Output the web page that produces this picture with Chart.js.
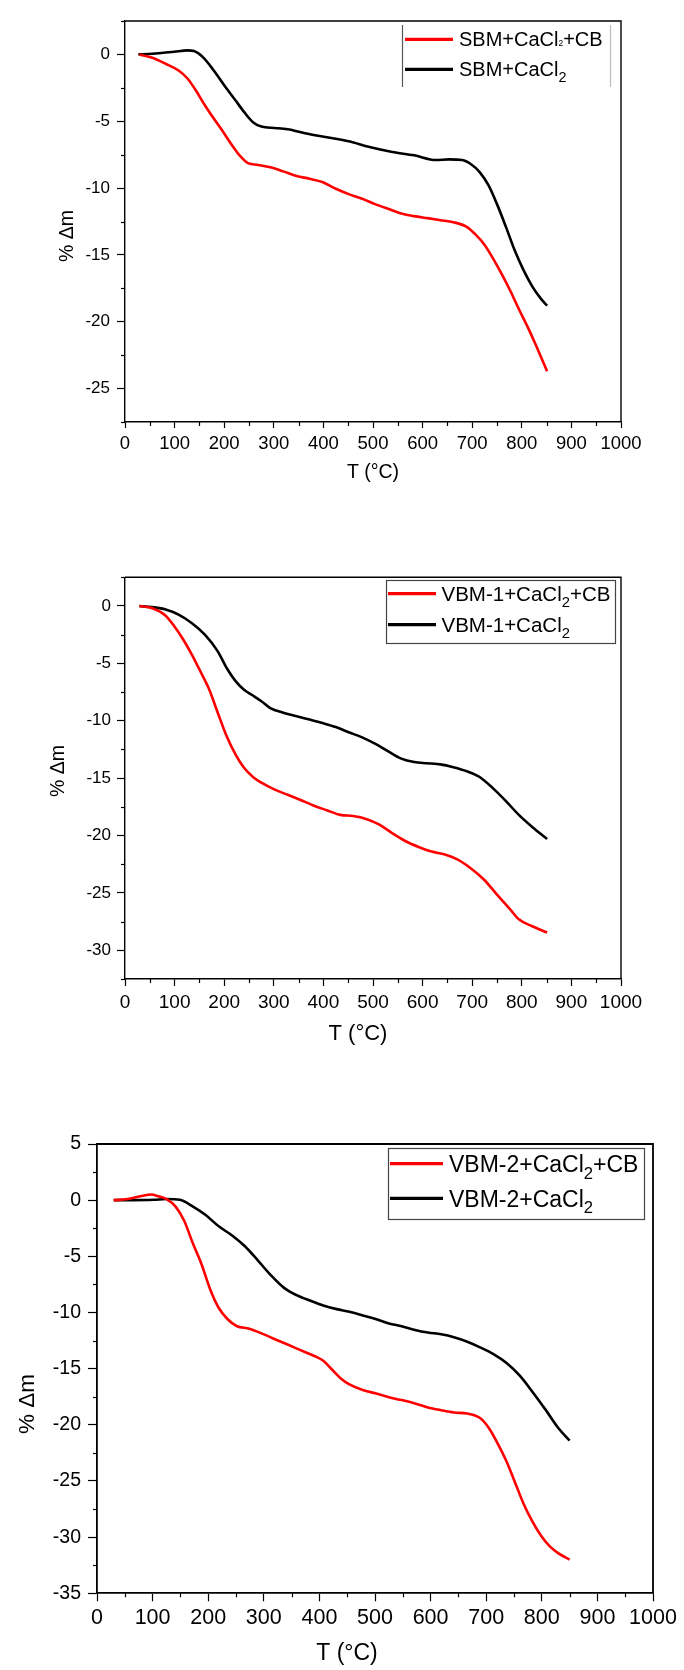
<!DOCTYPE html>
<html><head><meta charset="utf-8">
<script src="https://cdn.jsdelivr.net/npm/chart.js@4.4.0/dist/chart.umd.min.js"></script>
<style>
html,body{margin:0;padding:0;background:#fff;}
body{width:684px;height:1670px;position:relative;overflow:hidden;}
canvas{position:absolute;left:0;}
</style></head><body>
<canvas id="c1" width="684" height="520" style="top:0px"></canvas>
<canvas id="c2" width="684" height="520" style="top:540px"></canvas>
<canvas id="c3" width="684" height="570" style="top:1100px"></canvas>
<script>
// ---------- shared ticks ----------
const xTickValues = [0,100,200,300,400,500,600,700,800,900,1000];
const xMinorValues = [50,150,250,350,450,550,650,750,850,950];
const xTitleText = 'T (°C)';
const yTitleText = '% Δm';

// ---------- Chart 1: SBM ----------
const yTicks1 = [0,-5,-10,-15,-20,-25];
const yMinor1 = [2.5,-2.5,-7.5,-12.5,-17.5,-22.5,-27.5];
const name1Red = 'SBM+CaCl₂+CB';
const name1Black = 'SBM+CaCl₂';
const t1Red = [29,55,82,108,126,143,161,179,196,214,231,249,266,293,319,346,372,398,425,451,478,504,530,557,583,610,636,662,689,706,724,741,759,777,794,812,829,851];
const m1Red = [0,-0.25,-0.7,-1.2,-1.8,-2.7,-3.8,-4.8,-5.7,-6.7,-7.55,-8.15,-8.25,-8.45,-8.75,-9.1,-9.3,-9.55,-10.05,-10.45,-10.8,-11.2,-11.55,-11.9,-12.1,-12.25,-12.4,-12.55,-12.9,-13.45,-14.2,-15.2,-16.4,-17.7,-19.05,-20.4,-21.8,-23.7];
const t1Black = [27,55,99,126,139,157,179,200,223,240,258,275,302,328,363,407,451,495,539,583,627,653,680,697,715,733,750,768,785,803,821,838,851];
const m1Black = [0,0.05,0.2,0.3,0.25,-0.2,-1.2,-2.3,-3.45,-4.3,-5.07,-5.4,-5.5,-5.6,-5.9,-6.2,-6.5,-6.95,-7.3,-7.55,-7.9,-7.85,-7.9,-8.2,-8.8,-9.8,-11.2,-12.9,-14.6,-16.1,-17.35,-18.25,-18.8];

// ---------- Chart 2: VBM-1 ----------
const yTicks2 = [0,-5,-10,-15,-20,-25,-30];
const yMinor2 = [2.5,-2.5,-7.5,-12.5,-17.5,-22.5,-27.5,-32.5];
const name2Red = 'VBM-1+CaCl₂+CB';
const name2Black = 'VBM-1+CaCl₂';
const t2Red = [29,55,82,99,117,135,152,170,187,205,223,240,258,275,302,328,354,381,407,434,460,486,513,539,566,592,618,645,671,697,724,750,777,794,821,851];
const m2Red = [0,-0.2,-0.85,-1.75,-2.9,-4.25,-5.7,-7.3,-9.3,-11.35,-12.95,-14.1,-14.9,-15.4,-16.0,-16.45,-16.9,-17.4,-17.8,-18.2,-18.3,-18.55,-19.05,-19.8,-20.5,-21.0,-21.4,-21.65,-22.1,-22.85,-23.85,-25.15,-26.45,-27.3,-27.9,-28.45];
const t2Black = [29,55,82,108,135,161,187,205,223,240,258,275,293,319,346,372,398,425,451,478,504,530,557,583,610,636,662,689,715,741,768,794,821,851];
const m2Black = [0,-0.1,-0.3,-0.75,-1.5,-2.5,-3.95,-5.4,-6.55,-7.3,-7.8,-8.3,-8.9,-9.3,-9.6,-9.9,-10.2,-10.55,-11.0,-11.45,-12.0,-12.65,-13.3,-13.6,-13.7,-13.8,-14.05,-14.4,-14.9,-15.85,-17.0,-18.2,-19.25,-20.3];

// ---------- Chart 3: VBM-2 ----------
const yTicks3 = [5,0,-5,-10,-15,-20,-25,-30,-35];
const yMinor3 = [2.5,-2.5,-7.5,-12.5,-17.5,-22.5,-27.5,-32.5];
const name3Red = 'VBM-2+CaCl₂+CB';
const name3Black = 'VBM-2+CaCl₂';
const t3Red = [30,55,78,98,110,125,141,157,172,188,204,219,235,251,274,298,321,345,368,392,407,423,439,454,478,501,525,548,572,595,619,642,666,689,705,720,736,752,767,783,799,814,830,850];
const m3Red = [0,0.1,0.35,0.5,0.35,0.1,-0.55,-1.85,-3.8,-5.7,-8.0,-9.6,-10.6,-11.2,-11.45,-11.9,-12.4,-12.9,-13.4,-13.9,-14.3,-15.1,-15.9,-16.4,-16.9,-17.2,-17.55,-17.8,-18.1,-18.45,-18.7,-18.9,-19.0,-19.4,-20.3,-21.6,-23.2,-25.15,-27.0,-28.6,-29.9,-30.8,-31.45,-32.0];
const t3Black = [30,63,102,125,149,172,196,219,243,266,290,313,337,360,384,407,431,454,478,501,525,548,572,595,619,642,666,689,713,736,760,783,807,830,850];
const m3Black = [0,0,0.03,0.1,0.03,-0.55,-1.35,-2.33,-3.14,-4.1,-5.4,-6.7,-7.83,-8.48,-8.96,-9.38,-9.7,-9.94,-10.26,-10.58,-10.97,-11.23,-11.55,-11.78,-11.94,-12.2,-12.6,-13.1,-13.7,-14.47,-15.6,-17.05,-18.67,-20.3,-21.4];

const FONT = '"Liberation Sans", Arial, sans-serif';

// split a label on the subscript ₂ into parts
function labelParts(name){
  const out = [];
  name.split('₂').forEach((s,i,arr)=>{ if(s) out.push({t:s}); if(i<arr.length-1) out.push({t:'2',sub:true}); });
  return out;
}

function drawRich(ctx, parts, x, yBase, size, subSpec){
  let cx = x;
  parts.forEach(p=>{
    if(p.sub){
      ctx.font = (size*subSpec.scale).toFixed(1)+'px '+FONT;
      ctx.fillText(p.t, cx, yBase + size*subSpec.drop);
      cx += ctx.measureText(p.t).width;
    } else {
      ctx.font = size+'px '+FONT;
      ctx.fillText(p.t, cx, yBase);
      cx += ctx.measureText(p.t).width;
    }
  });
}

function makeDecor(spec){
  return {
    id: 'decor',
    afterDraw(chart){
      const ctx = chart.ctx, a = chart.chartArea;
      const xs = chart.scales.x, ys = chart.scales.y;
      ctx.save();
      ctx.strokeStyle = '#000';
      ctx.lineWidth = spec.axisWidth;
      ctx.beginPath();
      ctx.moveTo(a.left, a.top); ctx.lineTo(a.right, a.top); ctx.lineTo(a.right, a.bottom);
      ctx.stroke();
      ctx.lineWidth = 1.2;
      xMinorValues.forEach(v=>{
        const px = Math.round(xs.getPixelForValue(v))+0.5;
        ctx.beginPath(); ctx.moveTo(px, a.bottom); ctx.lineTo(px, a.bottom + spec.minorLen); ctx.stroke();
      });
      spec.yMinor.forEach(v=>{
        const py = Math.round(ys.getPixelForValue(v))+0.5;
        ctx.beginPath(); ctx.moveTo(a.left, py); ctx.lineTo(a.left - spec.minorLen, py); ctx.stroke();
      });
      // axis titles
      ctx.fillStyle = '#000';
      ctx.textAlign = 'center'; ctx.textBaseline = 'middle';
      ctx.font = (spec.xTitle.bold?'bold ':'') + spec.xTitle.size+'px '+FONT;
      ctx.fillText(xTitleText, spec.xTitle.x, spec.xTitle.y);
      ctx.save();
      ctx.translate(spec.yTitle.x, spec.yTitle.y);
      ctx.rotate(-Math.PI/2);
      ctx.font = spec.yTitle.size+'px '+FONT;
      ctx.fillText(yTitleText, 0, 0);
      ctx.restore();
      // legend
      const L = spec.legend;
      if (L.box === 'full'){
        ctx.strokeStyle = '#444'; ctx.lineWidth = 1.2;
        ctx.strokeRect(L.x0+0.5, L.y0+0.5, L.x1-L.x0, L.y1-L.y0);
      } else {
        ctx.lineWidth = 1.2;
        ctx.strokeStyle = '#555';
        ctx.beginPath(); ctx.moveTo(L.x0+0.5, L.y0); ctx.lineTo(L.x0+0.5, L.y1); ctx.stroke();
        ctx.strokeStyle = '#bbb';
        ctx.beginPath(); ctx.moveTo(L.x1+0.5, L.y0); ctx.lineTo(L.x1+0.5, L.y1); ctx.stroke();
      }
      ctx.textAlign = 'left'; ctx.textBaseline = 'alphabetic';
      chart.data.datasets.forEach((ds,i)=>{
        const y = L.rows[i];
        ctx.strokeStyle = ds.borderColor; ctx.lineWidth = 3.2;
        ctx.beginPath(); ctx.moveTo(L.lx0, y); ctx.lineTo(L.lx1, y); ctx.stroke();
        ctx.fillStyle = '#000';
        drawRich(ctx, labelParts(ds.label), L.tx, y + L.size*0.716/2, L.size, L.subs[i]);
      });
      ctx.restore();
    }
  };
}

function makeChart(id, spec){
  const toXY = (t,m)=>t.map((x,i)=>({x:x, y:m[i]}));
  return new Chart(document.getElementById(id), {
    type: 'line',
    data: {
      datasets: [
        {label: spec.nameRed, data: toXY(spec.tRed, spec.mRed), borderColor: '#ff0000', borderWidth: 2.6, pointRadius: 0, cubicInterpolationMode: 'monotone', fill: false},
        {label: spec.nameBlack, data: toXY(spec.tBlack, spec.mBlack), borderColor: '#000000', borderWidth: 2.6, pointRadius: 0, cubicInterpolationMode: 'monotone', fill: false}
      ]
    },
    options: {
      responsive: false, animation: false, devicePixelRatio: 1,
      layout: {padding: {top: spec.area.top, right: spec.canvasW - spec.area.right, left: 0, bottom: 0}},
      plugins: {legend: {display: false}, tooltip: {enabled: false}},
      scales: {
        x: {
          type: 'linear', min: 0, max: 1000,
          afterBuildTicks: s => { s.ticks = xTickValues.map(v=>({value:v})); },
          afterFit: s => { s.height = spec.canvasH - spec.area.bottom; },
          grid: {display: true, drawOnChartArea: false, drawTicks: true, tickLength: spec.xTickLen, tickColor: '#000', tickWidth: 1.2},
          border: {display: true, color: '#000', width: spec.axisWidth},
          ticks: {color: '#000', font: {family: FONT, size: spec.xTickFont}, padding: spec.xTickPad, maxRotation: 0, autoSkip: false, callback: v => String(v)}
        },
        y: {
          type: 'linear', min: spec.yMin, max: spec.yMax,
          afterBuildTicks: s => { s.ticks = spec.yTicks.map(v=>({value:v})); },
          afterFit: s => { s.width = spec.area.left; },
          grid: {display: true, drawOnChartArea: false, drawTicks: true, tickLength: spec.yTickLen, tickColor: '#000', tickWidth: 1.2},
          border: {display: true, color: '#000', width: spec.axisWidth},
          ticks: {color: '#000', font: {family: FONT, size: spec.yTickFont}, padding: spec.yTickPad, autoSkip: false, callback: v => String(v)}
        }
      }
    },
    plugins: [makeDecor(spec)]
  });
}

makeChart('c1', {
  canvasW: 684, canvasH: 520,
  area: {left: 125, top: 21, right: 621, bottom: 422},
  yMin: -27.5, yMax: 2.5, yTicks: yTicks1, yMinor: yMinor1,
  nameRed: name1Red, nameBlack: name1Black,
  tRed: t1Red, mRed: m1Red, tBlack: t1Black, mBlack: m1Black,
  axisWidth: 1.4, minorLen: 4, xTickLen: 6, yTickLen: 8,
  xTickFont: 18.5, yTickFont: 17, xTickPad: 5, yTickPad: 7,
  xTitle: {x: 373, y: 473, size: 19.5}, yTitle: {x: 68, y: 236, size: 19.5},
  legend: {box: 'sides', x0: 402, y0: 25, x1: 610, y1: 87, lx0: 405, lx1: 453, tx: 459, size: 20, rows: [39.3, 69.3],
           subs: [{scale: 0.42, drop: 0}, {scale: 0.72, drop: 0.3}]}
});

makeChart('c2', {
  canvasW: 684, canvasH: 520,
  area: {left: 125, top: 37.3, right: 621, bottom: 439},
  yMin: -32.5, yMax: 2.5, yTicks: yTicks2, yMinor: yMinor2,
  nameRed: name2Red, nameBlack: name2Black,
  tRed: t2Red, mRed: m2Red, tBlack: t2Black, mBlack: m2Black,
  axisWidth: 1.4, minorLen: 4, xTickLen: 7, yTickLen: 8,
  xTickFont: 19, yTickFont: 17, xTickPad: 5, yTickPad: 6,
  xTitle: {x: 358, y: 494, size: 22}, yTitle: {x: 59, y: 231, size: 19.5},
  legend: {box: 'full', x0: 386, y0: 40, x1: 615, y1: 103, lx0: 388, lx1: 436, tx: 441.5, size: 20.5, rows: [53.7, 84.6],
           subs: [{scale: 0.72, drop: 0.3}, {scale: 0.72, drop: 0.3}]}
});

makeChart('c3', {
  canvasW: 684, canvasH: 570,
  area: {left: 97, top: 44, right: 653, bottom: 493.3},
  yMin: -35, yMax: 5, yTicks: yTicks3, yMinor: yMinor3,
  nameRed: name3Red, nameBlack: name3Black,
  tRed: t3Red, mRed: m3Red, tBlack: t3Black, mBlack: m3Black,
  axisWidth: 1.8, minorLen: 4, xTickLen: 8, yTickLen: 9,
  xTickFont: 21.5, yTickFont: 19.5, xTickPad: 4, yTickPad: 7,
  xTitle: {x: 347, y: 554, size: 23}, yTitle: {x: 28, y: 304, size: 22.5},
  legend: {box: 'full', x0: 388, y0: 48, x1: 644, y1: 119, lx0: 390, lx1: 443, tx: 449, size: 23, rows: [63.7, 98.3],
           subs: [{scale: 0.72, drop: 0.3}, {scale: 0.72, drop: 0.3}]}
});
</script>
</body></html>
